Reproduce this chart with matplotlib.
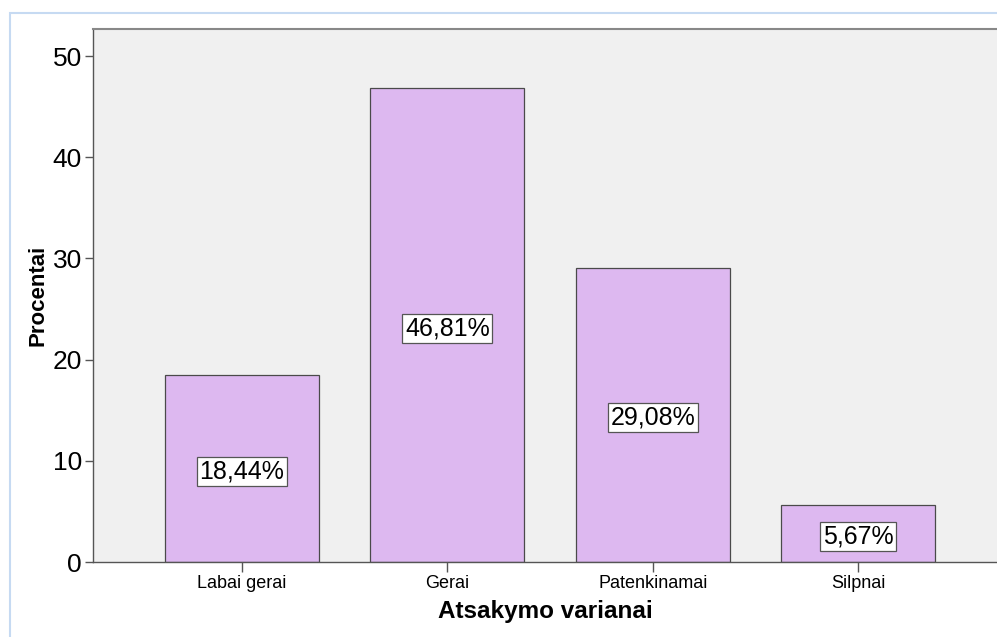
import matplotlib
matplotlib.use("Agg")
import matplotlib.pyplot as plt
from matplotlib.patches import Rectangle

categories = ["Labai gerai", "Gerai", "Patenkinamai", "Silpnai"]
values = [18.44, 46.81, 29.08, 5.67]
labels = ["18,44%", "46,81%", "29,08%", "5,67%"]
yticks = [0, 10, 20, 30, 40, 50]

plt.rcParams['font.family'] = ['Liberation Sans', 'DejaVu Sans']

fig = plt.figure(figsize=(9.97, 6.37), dpi=100)
fig.patch.set_facecolor('white')
fig.patches.append(Rectangle((10/997, -0.05), 1.0, 1.05 - 13/637, transform=fig.transFigure,
                             fill=False, edgecolor='#C6DAF2', linewidth=1.5))

ax = fig.add_axes([93/997, 75/637, 1 - 93/997, (562-29)/637])
ax.set_facecolor('#F0F0F0')
x = list(range(len(categories)))
ax.bar(x, values, width=0.75, color='#DDB8F0', edgecolor='#4a4a4a', linewidth=0.9, zorder=2)
for xi, v, lab in zip(x, values, labels):
    ax.text(xi, v/2 - 0.3, lab, ha='center', va='center', fontsize=18, color='black', zorder=3,
            bbox=dict(boxstyle='square,pad=0.1', facecolor='white', edgecolor='#555555', linewidth=0.9))

ax.set_xlim(-0.725, 3.676)
ax.set_ylim(0, 52.67)
ax.set_yticks(yticks)
ax.set_yticklabels([str(t) for t in yticks], fontsize=19)
ax.set_xticks(x)
ax.set_xticklabels(categories, fontsize=13)
ax.tick_params(axis='y', length=6, width=1, color='#555555', pad=2)
ax.tick_params(axis='x', length=7, width=1, color='#555555', pad=2)
for s in ['left', 'bottom']:
    ax.spines[s].set_color('#555555')
    ax.spines[s].set_linewidth(1.0)
ax.spines['top'].set_color('#888888')
ax.spines['top'].set_linewidth(1.5)
ax.spines['right'].set_visible(False)

ax.set_xlabel("Atsakymo varianai", fontsize=17.5, fontweight='bold', labelpad=6)
ax.set_ylabel("Procentai", fontsize=16, fontweight='bold', labelpad=3)

fig.savefig("out.png", dpi=100)
